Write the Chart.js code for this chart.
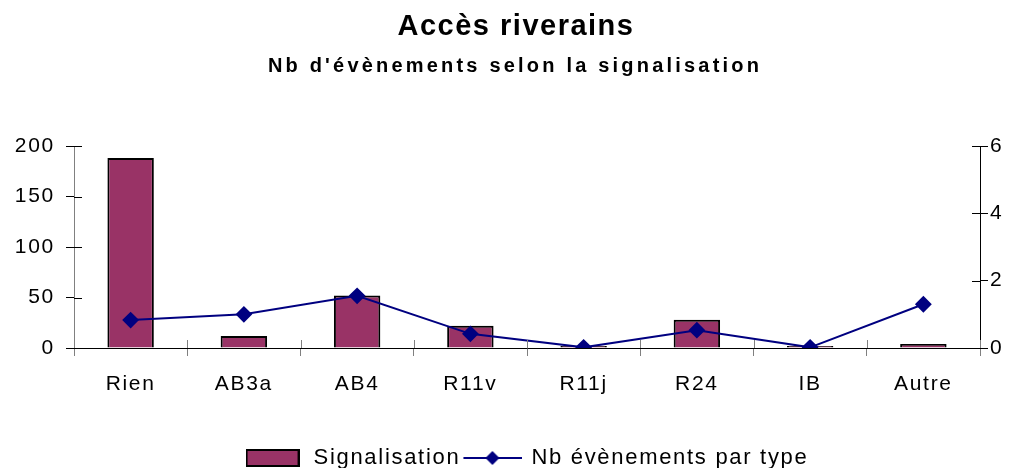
<!DOCTYPE html>
<html>
<head>
<meta charset="utf-8">
<script src="https://cdn.jsdelivr.net/npm/chart.js@4.4.0/dist/chart.umd.min.js"></script>
<style>
  html, body { margin: 0; padding: 0; background: #fff; }
  #wrap { width: 1015px; height: 468px; }
</style>
</head>
<body>
<div id="wrap"><canvas id="chart" width="1015" height="468"></canvas></div>
<script>
const titleText = "Accès riverains";
const subtitleText = "Nb d'évènements selon la signalisation";
const categories = ["Rien", "AB3a", "AB4", "R11v", "R11j", "R24", "IB", "Autre"];
const signalisation = [188, 12, 52, 22, 2, 28, 2, 4];
const nbEvenements = [0.83, 1.0, 1.55, 0.42, 0.02, 0.53, 0.02, 1.3];
const leftTicks = [0, 50, 100, 150, 200];
const rightTicks = [0, 2, 4, 6];

const FONT = "'Liberation Sans', Arial, sans-serif";
const SPACING = "1.7px";
const barColor = "#993366";
const lineColor = "#000080";

// Legend symbols drawn on small canvases
function legendBox() {
  const c = document.createElement("canvas");
  c.width = 54; c.height = 18;
  const g = c.getContext("2d");
  g.fillStyle = barColor;
  g.fillRect(1, 1, 52, 16);
  g.strokeStyle = "#000";
  g.lineWidth = 2;
  g.strokeRect(1, 1, 52, 16);
  return c;
}
function legendLine() {
  const c = document.createElement("canvas");
  c.width = 64; c.height = 16;
  const g = c.getContext("2d");
  g.strokeStyle = lineColor;
  g.lineWidth = 2;
  g.beginPath(); g.moveTo(5, 8); g.lineTo(64, 8); g.stroke();
  g.fillStyle = lineColor;
  g.beginPath(); g.moveTo(34, 1); g.lineTo(41, 8); g.lineTo(34, 15); g.lineTo(27, 8); g.closePath(); g.fill();
  return c;
}

// Wider text spacing, like the original rendering
const spacing = {
  id: "spacing",
  beforeUpdate(chart) { chart.ctx.letterSpacing = SPACING; },
  beforeDraw(chart) { chart.ctx.letterSpacing = SPACING; },
  afterLayout(chart) {
    // legend sits a little right of the page centre and near the bottom edge
    chart.legend.left += 18;
    chart.legend.right += 18;
    chart.legend.top += 11;
    chart.legend.bottom += 11;
  }
};

// Title and subtitle
const titles = {
  id: "titles",
  afterDraw(chart) {
    const ctx = chart.ctx;
    ctx.save();
    ctx.fillStyle = "#000";
    ctx.textAlign = "center";
    ctx.textBaseline = "alphabetic";
    ctx.letterSpacing = "1.5px";
    ctx.font = "bold 29px " + FONT;
    ctx.fillText(titleText, 516, 35);
    ctx.letterSpacing = "3.2px";
    ctx.font = "bold 20px " + FONT;
    ctx.fillText(subtitleText, 515, 72);
    ctx.restore();
  }
};

// Ticks crossing the axis lines, inner half
const crossTicks = {
  id: "crossTicks",
  afterDatasetsDraw(chart) {
    const ctx = chart.ctx;
    const a = chart.chartArea;
    ctx.save();
    ctx.lineWidth = 1;
    ctx.strokeStyle = "#808080";
    for (let i = 0; i <= categories.length; i++) {
      const px = Math.round(a.left + (a.right - a.left) * i / categories.length) + 0.5;
      ctx.beginPath(); ctx.moveTo(px, a.bottom); ctx.lineTo(px, a.bottom - 8); ctx.stroke();
    }
    ctx.strokeStyle = "#000";
    chart.scales.y.ticks.forEach(t => {
      const py = Math.round(chart.scales.y.getPixelForValue(t.value)) + 0.5;
      ctx.beginPath(); ctx.moveTo(a.left, py); ctx.lineTo(a.left + 8, py); ctx.stroke();
    });
    chart.scales.y2.ticks.forEach(t => {
      const py = Math.round(chart.scales.y2.getPixelForValue(t.value)) + 0.5;
      ctx.beginPath(); ctx.moveTo(a.right, py); ctx.lineTo(a.right - 8, py); ctx.stroke();
    });
    ctx.restore();
  }
};

new Chart(document.getElementById("chart"), {
  data: {
    labels: categories,
    datasets: [
      {
        type: "bar",
        label: "Signalisation",
        data: signalisation,
        yAxisID: "y",
        backgroundColor: barColor,
        borderColor: "#000",
        borderWidth: 2,
        barPercentage: 0.41,
        categoryPercentage: 1,
        order: 2
      },
      {
        type: "line",
        label: "Nb évènements par type",
        data: nbEvenements,
        yAxisID: "y2",
        borderColor: lineColor,
        backgroundColor: lineColor,
        borderWidth: 2,
        tension: 0,
        pointStyle: "rectRot",
        pointRadius: 7,
        pointHoverRadius: 7,
        pointBackgroundColor: lineColor,
        pointBorderColor: lineColor,
        order: 1
      }
    ]
  },
  options: {
    responsive: false,
    animation: false,
    devicePixelRatio: 1,
    layout: { padding: { left: 0, right: 0, top: 146, bottom: 0 } },
    plugins: {
      tooltip: { enabled: false },
      title: { display: false },
      legend: {
        position: "bottom",
        labels: {
          color: "#000",
          font: { family: FONT, size: 22, lineHeight: 1 },
          usePointStyle: true,
          pointStyleWidth: 60,
          padding: 0,
          generateLabels(chart) {
            return [
              { text: "Signalisation", pointStyle: legendBox(), fontColor: "#000", datasetIndex: 0, lineWidth: 0 },
              { text: "Nb évènements par type", pointStyle: legendLine(), fontColor: "#000", datasetIndex: 1, lineWidth: 0 }
            ];
          }
        }
      }
    },
    scales: {
      x: {
        offset: true,
        grid: { display: true, drawOnChartArea: false, offset: true, tickLength: 8, color: "#808080" },
        border: { color: "#000", width: 1 },
        ticks: { color: "#000", font: { family: FONT, size: 21 }, padding: 16, maxRotation: 0 },
        afterFit(s) { s.height = 88; }
      },
      y: {
        position: "left",
        min: 0, max: 200,
        afterBuildTicks(s) { s.ticks = leftTicks.map(v => ({ value: v })); },
        grid: { drawOnChartArea: false, tickLength: 8, color: "#000" },
        border: { color: "#808080", width: 1 },
        ticks: { color: "#000", font: { family: FONT, size: 21 }, padding: 11 },
        afterFit(s) { s.width = 74; }
      },
      y2: {
        position: "right",
        min: 0, max: 6,
        afterBuildTicks(s) { s.ticks = rightTicks.map(v => ({ value: v })); },
        grid: { drawOnChartArea: false, tickLength: 8, color: "#000" },
        border: { color: "#000", width: 1 },
        ticks: { color: "#000", font: { family: FONT, size: 21 }, padding: 2 },
        afterFit(s) { s.width = 35; }
      }
    }
  },
  plugins: [spacing, titles, crossTicks]
});
</script>
</body>
</html>
